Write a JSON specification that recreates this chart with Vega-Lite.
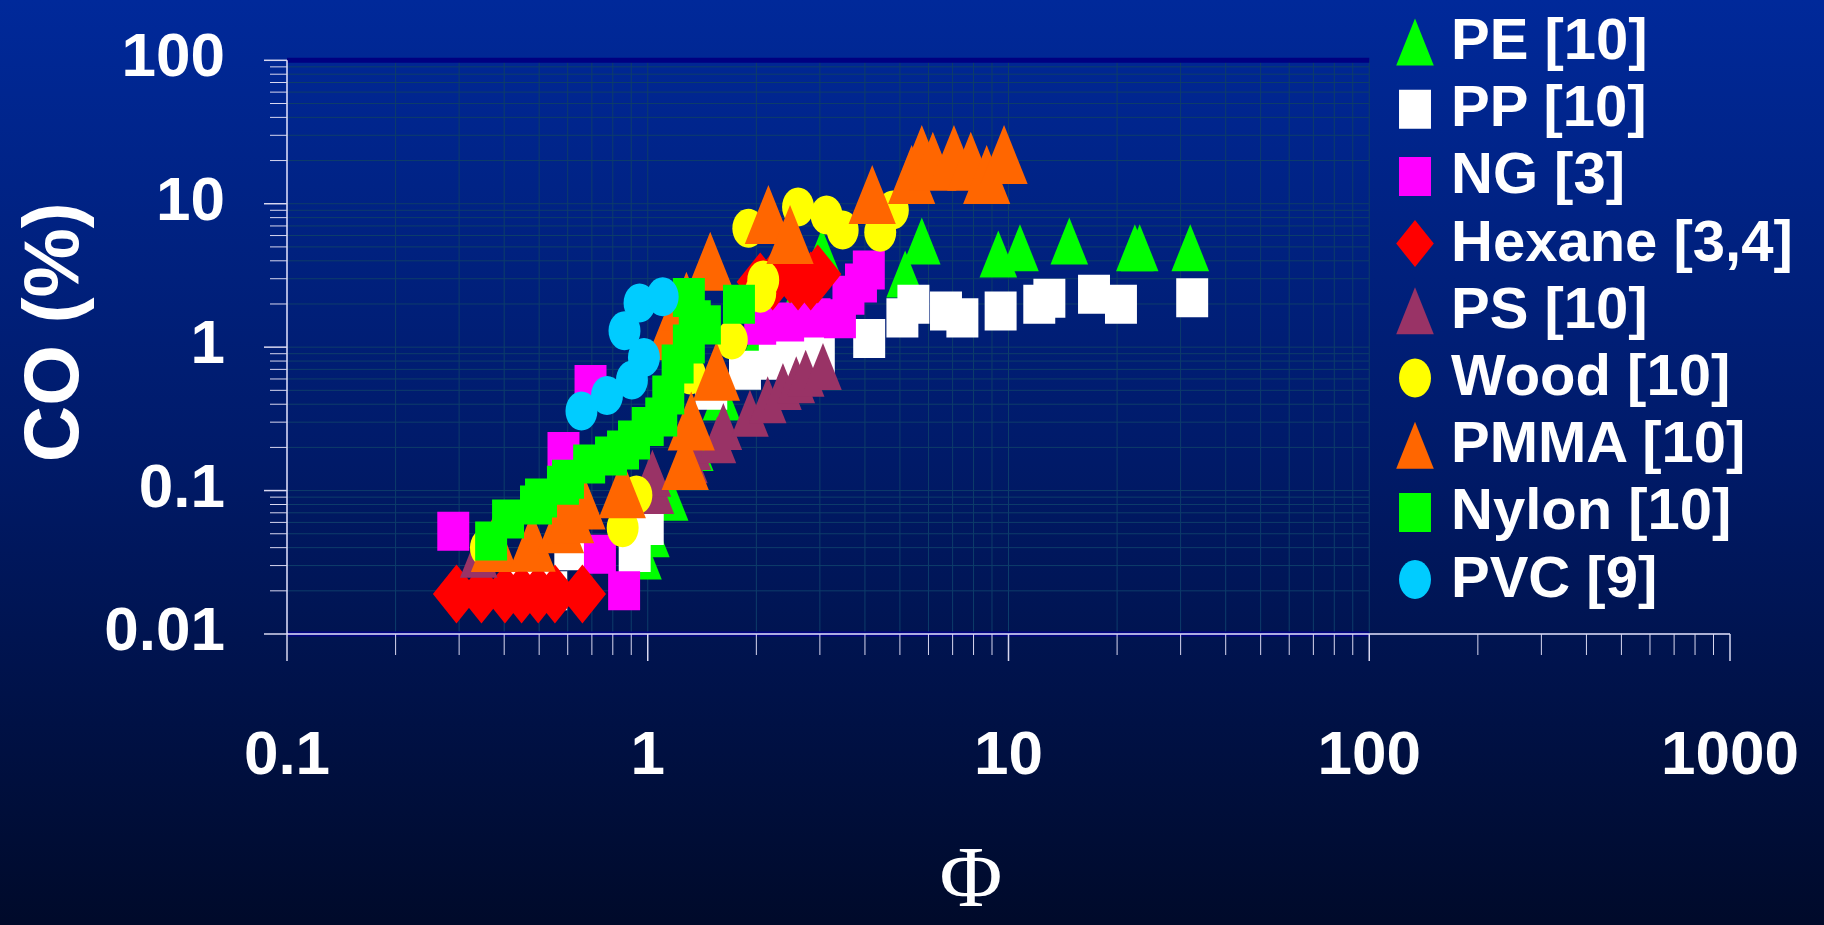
{
  "$schema": "https://vega.github.io/schema/vega-lite/v6.json",
  "width": 1443,
  "height": 573.7,
  "autosize": {"type": "none"},
  "padding": {"left": 287, "top": 60.3, "right": 94, "bottom": 291},
  "background": "#001a66",
  "config": {"view": {"stroke": null}},
  "datasets": {
    "vgrid": [{"v":0.2},{"v":0.3},{"v":0.4},{"v":0.5},{"v":0.6},{"v":0.7},{"v":0.8},{"v":0.9},{"v":1},{"v":2},{"v":3},{"v":4},{"v":5},{"v":6},{"v":7},{"v":8},{"v":9},{"v":10},{"v":20},{"v":30},{"v":40},{"v":50},{"v":60},{"v":70},{"v":80},{"v":90},{"v":100}],
    "hgrid": [{"v":0.02},{"v":0.03},{"v":0.04},{"v":0.05},{"v":0.06},{"v":0.07},{"v":0.08},{"v":0.09},{"v":0.1},{"v":0.2},{"v":0.3},{"v":0.4},{"v":0.5},{"v":0.6},{"v":0.7},{"v":0.8},{"v":0.9},{"v":1},{"v":2},{"v":3},{"v":4},{"v":5},{"v":6},{"v":7},{"v":8},{"v":9},{"v":10},{"v":20},{"v":30},{"v":40},{"v":50},{"v":60},{"v":70},{"v":80},{"v":90}],
    "xminor": [{"v":0.2},{"v":0.3},{"v":0.4},{"v":0.5},{"v":0.6},{"v":0.7},{"v":0.8},{"v":0.9},{"v":2},{"v":3},{"v":4},{"v":5},{"v":6},{"v":7},{"v":8},{"v":9},{"v":20},{"v":30},{"v":40},{"v":50},{"v":60},{"v":70},{"v":80},{"v":90},{"v":200},{"v":300},{"v":400},{"v":500},{"v":600},{"v":700},{"v":800},{"v":900}],
    "xmajor": [{"v":0.1},{"v":1},{"v":10},{"v":100},{"v":1000}],
    "yminor": [{"v":0.02},{"v":0.03},{"v":0.04},{"v":0.05},{"v":0.06},{"v":0.07},{"v":0.08},{"v":0.09},{"v":0.2},{"v":0.3},{"v":0.4},{"v":0.5},{"v":0.6},{"v":0.7},{"v":0.8},{"v":0.9},{"v":2},{"v":3},{"v":4},{"v":5},{"v":6},{"v":7},{"v":8},{"v":9},{"v":20},{"v":30},{"v":40},{"v":50},{"v":60},{"v":70},{"v":80},{"v":90}],
    "ymajor": [{"v":0.01},{"v":0.1},{"v":1},{"v":10},{"v":100}],
    "pts": [
      {"series":"PE [10]","phi":0.97,"co":0.035},
      {"series":"PE [10]","phi":1.02,"co":0.05},
      {"series":"PE [10]","phi":1.15,"co":0.09},
      {"series":"PE [10]","phi":1.35,"co":0.2},
      {"series":"PE [10]","phi":1.6,"co":0.45},
      {"series":"PE [10]","phi":2.0,"co":1.0},
      {"series":"PE [10]","phi":2.6,"co":2.2},
      {"series":"PE [10]","phi":3.04,"co":4.6},
      {"series":"PE [10]","phi":5.17,"co":3.24},
      {"series":"PE [10]","phi":5.75,"co":5.5},
      {"series":"PE [10]","phi":9.37,"co":4.46},
      {"series":"PE [10]","phi":10.76,"co":4.94},
      {"series":"PE [10]","phi":14.74,"co":5.5},
      {"series":"PE [10]","phi":22.4,"co":4.94},
      {"series":"PE [10]","phi":23.1,"co":4.94},
      {"series":"PE [10]","phi":31.9,"co":4.94},
      {"series":"PP [10]","phi":0.45,"co":0.02},
      {"series":"PP [10]","phi":0.54,"co":0.02},
      {"series":"PP [10]","phi":0.61,"co":0.038},
      {"series":"PP [10]","phi":0.92,"co":0.037},
      {"series":"PP [10]","phi":1.0,"co":0.057},
      {"series":"PP [10]","phi":1.5,"co":0.5},
      {"series":"PP [10]","phi":1.86,"co":0.69},
      {"series":"PP [10]","phi":2.25,"co":0.81},
      {"series":"PP [10]","phi":2.73,"co":0.86},
      {"series":"PP [10]","phi":2.98,"co":0.87},
      {"series":"PP [10]","phi":4.11,"co":1.15},
      {"series":"PP [10]","phi":5.08,"co":1.6},
      {"series":"PP [10]","phi":5.45,"co":1.99},
      {"series":"PP [10]","phi":6.71,"co":1.79},
      {"series":"PP [10]","phi":7.45,"co":1.6},
      {"series":"PP [10]","phi":9.51,"co":1.79},
      {"series":"PP [10]","phi":12.17,"co":1.99},
      {"series":"PP [10]","phi":12.98,"co":2.19},
      {"series":"PP [10]","phi":17.26,"co":2.34},
      {"series":"PP [10]","phi":20.5,"co":1.99},
      {"series":"PP [10]","phi":32.3,"co":2.21},
      {"series":"NG [3]","phi":0.289,"co":0.052},
      {"series":"NG [3]","phi":0.584,"co":0.187},
      {"series":"NG [3]","phi":0.694,"co":0.549},
      {"series":"NG [3]","phi":0.737,"co":0.036},
      {"series":"NG [3]","phi":0.86,"co":0.02},
      {"series":"NG [3]","phi":2.05,"co":1.42},
      {"series":"NG [3]","phi":2.45,"co":1.5},
      {"series":"NG [3]","phi":2.9,"co":1.6},
      {"series":"NG [3]","phi":3.41,"co":1.58},
      {"series":"NG [3]","phi":3.6,"co":2.3},
      {"series":"NG [3]","phi":3.9,"co":2.8},
      {"series":"NG [3]","phi":4.1,"co":3.45},
      {"series":"Hexane [3,4]","phi":0.295,"co":0.019},
      {"series":"Hexane [3,4]","phi":0.346,"co":0.019},
      {"series":"Hexane [3,4]","phi":0.402,"co":0.019},
      {"series":"Hexane [3,4]","phi":0.447,"co":0.019},
      {"series":"Hexane [3,4]","phi":0.497,"co":0.019},
      {"series":"Hexane [3,4]","phi":0.553,"co":0.019},
      {"series":"Hexane [3,4]","phi":0.659,"co":0.019},
      {"series":"Hexane [3,4]","phi":2.05,"co":2.85},
      {"series":"Hexane [3,4]","phi":2.22,"co":2.89},
      {"series":"Hexane [3,4]","phi":2.48,"co":3.24},
      {"series":"Hexane [3,4]","phi":2.61,"co":2.89},
      {"series":"Hexane [3,4]","phi":2.83,"co":2.89},
      {"series":"Hexane [3,4]","phi":2.96,"co":3.24},
      {"series":"PS [10]","phi":0.34,"co":0.036},
      {"series":"PS [10]","phi":1.05,"co":0.1},
      {"series":"PS [10]","phi":1.03,"co":0.132},
      {"series":"PS [10]","phi":1.30,"co":0.164},
      {"series":"PS [10]","phi":1.33,"co":0.203},
      {"series":"PS [10]","phi":1.56,"co":0.226},
      {"series":"PS [10]","phi":1.62,"co":0.28},
      {"series":"PS [10]","phi":1.92,"co":0.346},
      {"series":"PS [10]","phi":2.15,"co":0.43},
      {"series":"PS [10]","phi":2.37,"co":0.532},
      {"series":"PS [10]","phi":2.58,"co":0.592},
      {"series":"PS [10]","phi":2.74,"co":0.658},
      {"series":"PS [10]","phi":3.06,"co":0.733},
      {"series":"Wood [10]","phi":0.356,"co":0.04},
      {"series":"Wood [10]","phi":0.852,"co":0.055},
      {"series":"Wood [10]","phi":0.93,"co":0.093},
      {"series":"Wood [10]","phi":1.31,"co":0.64},
      {"series":"Wood [10]","phi":1.71,"co":1.12},
      {"series":"Wood [10]","phi":2.05,"co":2.38},
      {"series":"Wood [10]","phi":2.09,"co":2.94},
      {"series":"Wood [10]","phi":1.90,"co":6.74},
      {"series":"Wood [10]","phi":2.61,"co":9.49},
      {"series":"Wood [10]","phi":3.13,"co":8.35},
      {"series":"Wood [10]","phi":3.47,"co":6.56},
      {"series":"Wood [10]","phi":4.41,"co":6.32},
      {"series":"Wood [10]","phi":4.78,"co":9.04},
      {"series":"PMMA [10]","phi":0.376,"co":0.0434},
      {"series":"PMMA [10]","phi":0.478,"co":0.0436},
      {"series":"PMMA [10]","phi":0.573,"co":0.0587},
      {"series":"PMMA [10]","phi":0.611,"co":0.069},
      {"series":"PMMA [10]","phi":0.657,"co":0.086},
      {"series":"PMMA [10]","phi":0.85,"co":0.103},
      {"series":"PMMA [10]","phi":1.27,"co":0.162},
      {"series":"PMMA [10]","phi":1.32,"co":0.305},
      {"series":"PMMA [10]","phi":1.55,"co":0.68},
      {"series":"PMMA [10]","phi":1.15,"co":1.3},
      {"series":"PMMA [10]","phi":1.28,"co":2.09},
      {"series":"PMMA [10]","phi":1.49,"co":3.97},
      {"series":"PMMA [10]","phi":2.16,"co":8.41},
      {"series":"PMMA [10]","phi":2.48,"co":6.10},
      {"series":"PMMA [10]","phi":4.19,"co":11.6},
      {"series":"PMMA [10]","phi":5.39,"co":16.0},
      {"series":"PMMA [10]","phi":5.75,"co":22.0},
      {"series":"PMMA [10]","phi":6.17,"co":19.8},
      {"series":"PMMA [10]","phi":7.06,"co":22.0},
      {"series":"PMMA [10]","phi":7.86,"co":19.8},
      {"series":"PMMA [10]","phi":8.70,"co":16.0},
      {"series":"PMMA [10]","phi":9.72,"co":22.0},
      {"series":"Nylon [10]","phi":0.368,"co":0.0445},
      {"series":"Nylon [10]","phi":0.41,"co":0.0633},
      {"series":"Nylon [10]","phi":0.49,"co":0.0793},
      {"series":"Nylon [10]","phi":0.506,"co":0.0887},
      {"series":"Nylon [10]","phi":0.582,"co":0.109},
      {"series":"Nylon [10]","phi":0.601,"co":0.12},
      {"series":"Nylon [10]","phi":0.688,"co":0.153},
      {"series":"Nylon [10]","phi":0.791,"co":0.174},
      {"series":"Nylon [10]","phi":0.854,"co":0.192},
      {"series":"Nylon [10]","phi":0.916,"co":0.225},
      {"series":"Nylon [10]","phi":1.0,"co":0.28},
      {"series":"Nylon [10]","phi":1.09,"co":0.326},
      {"series":"Nylon [10]","phi":1.14,"co":0.464},
      {"series":"Nylon [10]","phi":1.21,"co":0.763},
      {"series":"Nylon [10]","phi":1.30,"co":1.05},
      {"series":"Nylon [10]","phi":1.44,"co":1.43},
      {"series":"Nylon [10]","phi":1.35,"co":1.55},
      {"series":"Nylon [10]","phi":1.30,"co":2.22},
      {"series":"Nylon [10]","phi":1.79,"co":1.99},
      {"series":"PVC [9]","phi":0.655,"co":0.359},
      {"series":"PVC [9]","phi":0.771,"co":0.46},
      {"series":"PVC [9]","phi":0.904,"co":0.59},
      {"series":"PVC [9]","phi":0.976,"co":0.847},
      {"series":"PVC [9]","phi":0.862,"co":1.30},
      {"series":"PVC [9]","phi":0.949,"co":2.03},
      {"series":"PVC [9]","phi":1.10,"co":2.25}
    ]
  },
  "layer": [
    {
      "data": {"values": [{}]},
      "mark": {"type": "rect", "fill": {"gradient": "linear", "x1": 0, "y1": 0, "x2": 0, "y2": 1, "stops": [{"offset": 0, "color": "#00299a"}, {"offset": 0.5, "color": "#001a68"}, {"offset": 1, "color": "#000a2a"}]}},
      "encoding": {
        "x": {"datum": 0.016011, "type": "quantitative", "scale": {"type": "log", "domain": [0.1, 1000], "nice": false}, "axis": null},
        "x2": {"datum": 1822.1},
        "y": {"datum": 0.00009355, "type": "quantitative", "scale": {"type": "log", "domain": [0.01, 100], "nice": false}, "axis": null},
        "y2": {"datum": 263.28}
      }
    },
    {
      "data": {"name": "vgrid"},
      "mark": {"type": "rule", "stroke": "#0d3d6a", "strokeWidth": 1},
      "encoding": {
        "x": {"field": "v", "type": "quantitative", "scale": {"type": "log", "domain": [0.1, 1000], "nice": false}, "axis": null},
        "y": {"datum": 0.01, "type": "quantitative", "scale": {"type": "log", "domain": [0.01, 100], "nice": false}, "axis": null},
        "y2": {"datum": 100}
      }
    },
    {
      "data": {"name": "hgrid"},
      "mark": {"type": "rule", "stroke": "#0d3d6a", "strokeWidth": 1},
      "encoding": {
        "y": {"field": "v", "type": "quantitative", "scale": {"type": "log", "domain": [0.01, 100], "nice": false}, "axis": null},
        "x": {"datum": 0.1, "type": "quantitative", "scale": {"type": "log", "domain": [0.1, 1000], "nice": false}, "axis": null},
        "x2": {"datum": 100}
      }
    },
    {
      "data": {"values": [{}]},
      "mark": {"type": "rule", "stroke": "#000080", "strokeWidth": 5},
      "encoding": {
        "x": {"datum": 0.1, "type": "quantitative", "scale": {"type": "log", "domain": [0.1, 1000], "nice": false}, "axis": null},
        "x2": {"datum": 100},
        "y": {"datum": 100, "type": "quantitative", "scale": {"type": "log", "domain": [0.01, 100], "nice": false}, "axis": null}
      }
    },
    {
      "data": {"values": [{}]},
      "mark": {"type": "rule", "stroke": "#000080", "strokeWidth": 5},
      "encoding": {
        "x": {"datum": 0.1, "type": "quantitative", "scale": {"type": "log", "domain": [0.1, 1000], "nice": false}, "axis": null},
        "x2": {"datum": 100},
        "y": {"datum": 0.01, "type": "quantitative", "scale": {"type": "log", "domain": [0.01, 100], "nice": false}, "axis": null}
      }
    },
    {
      "data": {"values": [{}]},
      "mark": {"type": "rule", "stroke": "#e4e4ff", "strokeWidth": 1.5},
      "encoding": {
        "x": {"datum": 0.1, "type": "quantitative", "scale": {"type": "log", "domain": [0.1, 1000], "nice": false}, "axis": null},
        "x2": {"datum": 1000},
        "y": {"datum": 0.01, "type": "quantitative", "scale": {"type": "log", "domain": [0.01, 100], "nice": false}, "axis": null}
      }
    },
    {
      "data": {"values": [{}]},
      "mark": {"type": "rule", "stroke": "#e4e4ff", "strokeWidth": 1.5},
      "encoding": {
        "x": {"datum": 0.1, "type": "quantitative", "scale": {"type": "log", "domain": [0.1, 1000], "nice": false}, "axis": null},
        "y": {"datum": 0.01, "type": "quantitative", "scale": {"type": "log", "domain": [0.01, 100], "nice": false}, "axis": null},
        "y2": {"datum": 100}
      }
    },
    {
      "data": {"name": "xminor"},
      "mark": {"type": "tick", "orient": "vertical", "color": "#d8d8f0", "size": 21, "thickness": 1, "yOffset": 10.5, "opacity": 1},
      "encoding": {
        "x": {"field": "v", "type": "quantitative", "scale": {"type": "log", "domain": [0.1, 1000], "nice": false}, "axis": null},
        "y": {"datum": 0.01, "type": "quantitative", "scale": {"type": "log", "domain": [0.01, 100], "nice": false}, "axis": null}
      }
    },
    {
      "data": {"name": "xmajor"},
      "mark": {"type": "tick", "orient": "vertical", "color": "#d8d8f0", "size": 27, "thickness": 1.5, "yOffset": 13.5, "opacity": 1},
      "encoding": {
        "x": {"field": "v", "type": "quantitative", "scale": {"type": "log", "domain": [0.1, 1000], "nice": false}, "axis": null},
        "y": {"datum": 0.01, "type": "quantitative", "scale": {"type": "log", "domain": [0.01, 100], "nice": false}, "axis": null}
      }
    },
    {
      "data": {"name": "yminor"},
      "mark": {"type": "tick", "orient": "horizontal", "color": "#d8d8f0", "size": 17, "thickness": 1, "xOffset": -8.5, "opacity": 1},
      "encoding": {
        "y": {"field": "v", "type": "quantitative", "scale": {"type": "log", "domain": [0.01, 100], "nice": false}, "axis": null},
        "x": {"datum": 0.1, "type": "quantitative", "scale": {"type": "log", "domain": [0.1, 1000], "nice": false}, "axis": null}
      }
    },
    {
      "data": {"name": "ymajor"},
      "mark": {"type": "tick", "orient": "horizontal", "color": "#d8d8f0", "size": 23, "thickness": 1.5, "xOffset": -11.5, "opacity": 1},
      "encoding": {
        "y": {"field": "v", "type": "quantitative", "scale": {"type": "log", "domain": [0.01, 100], "nice": false}, "axis": null},
        "x": {"datum": 0.1, "type": "quantitative", "scale": {"type": "log", "domain": [0.1, 1000], "nice": false}, "axis": null}
      }
    },
    {
      "data": {"name": "xmajor"},
      "mark": {"type": "text", "color": "white", "font": "Liberation Sans, Arial, sans-serif", "fontWeight": "bold", "fontSize": 62, "align": "center", "baseline": "alphabetic", "dy": 140},
      "encoding": {
        "x": {"field": "v", "type": "quantitative", "scale": {"type": "log", "domain": [0.1, 1000], "nice": false}, "axis": null},
        "y": {"datum": 0.01, "type": "quantitative", "scale": {"type": "log", "domain": [0.01, 100], "nice": false}, "axis": null},
        "text": {"field": "v", "type": "quantitative", "format": "~g"}
      }
    },
    {
      "data": {"name": "ymajor"},
      "mark": {"type": "text", "color": "white", "font": "Liberation Sans, Arial, sans-serif", "fontWeight": "bold", "fontSize": 62, "align": "right", "baseline": "alphabetic", "dx": -62, "dy": 16},
      "encoding": {
        "y": {"field": "v", "type": "quantitative", "scale": {"type": "log", "domain": [0.01, 100], "nice": false}, "axis": null},
        "x": {"datum": 0.1, "type": "quantitative", "scale": {"type": "log", "domain": [0.1, 1000], "nice": false}, "axis": null},
        "text": {"field": "v", "type": "quantitative", "format": "~g"}
      }
    },
    {
      "data": {"values": [{"label": "Φ"}]},
      "mark": {"type": "text", "color": "white", "font": "Liberation Serif, DejaVu Serif, serif", "fontWeight": "normal", "fontSize": 86, "align": "center", "baseline": "alphabetic", "dy": 272},
      "encoding": {
        "x": {"datum": 7.87, "type": "quantitative", "scale": {"type": "log", "domain": [0.1, 1000], "nice": false}, "axis": null},
        "y": {"datum": 0.01, "type": "quantitative", "scale": {"type": "log", "domain": [0.01, 100], "nice": false}, "axis": null},
        "text": {"field": "label"}
      }
    },
    {
      "data": {"values": [{"label": "CO (%)"}]},
      "mark": {"type": "text", "color": "white", "font": "Liberation Sans, Arial, sans-serif", "fontWeight": "bold", "fontSize": 78, "align": "center", "baseline": "alphabetic", "angle": 270, "dx": 15, "dy": -209},
      "encoding": {
        "x": {"datum": 0.1, "type": "quantitative", "scale": {"type": "log", "domain": [0.1, 1000], "nice": false}, "axis": null},
        "y": {"datum": 1, "type": "quantitative", "scale": {"type": "log", "domain": [0.01, 100], "nice": false}, "axis": null},
        "text": {"field": "label"}
      }
    },
    {
      "data": {"name": "pts"},
      "mark": {"type": "point", "filled": true, "opacity": 1, "strokeWidth": 0},
      "encoding": {
        "x": {"field": "phi", "type": "quantitative", "scale": {"type": "log", "domain": [0.1, 1000], "nice": false}, "axis": null},
        "y": {"field": "co", "type": "quantitative", "scale": {"type": "log", "domain": [0.01, 100], "nice": false}, "axis": null},
        "color": {
          "field": "series", "type": "nominal",
          "scale": {
            "domain": ["PE [10]","PP [10]","NG [3]","Hexane [3,4]","PS [10]","Wood [10]","PMMA [10]","Nylon [10]","PVC [9]"],
            "range": ["#00ff00","#ffffff","#ff00ff","#ff0000","#993366","#ffff00","#ff6600","#00ff00","#00ccff"]
          },
          "legend": {
            "orient": "none", "legendX": 1099, "legendY": -47.3, "title": null, "padding": 0, "zindex": 2,
            "labelColor": "white", "labelFont": "Liberation Sans, Arial, sans-serif", "labelFontWeight": "bold",
            "labelFontSize": 58, "labelOffset": 7, "labelLimit": 800,
            "symbolSize": 2209, "symbolStrokeWidth": 0, "rowPadding": 9.2
          }
        },
        "shape": {
          "field": "series", "type": "nominal",
          "scale": {
            "domain": ["PE [10]","PP [10]","NG [3]","Hexane [3,4]","PS [10]","Wood [10]","PMMA [10]","Nylon [10]","PVC [9]"],
            "range": [
              "M0,-1L0.8,1L-0.8,1Z",
              "M-0.68,-0.83L0.68,-0.83L0.68,0.83L-0.68,0.83Z",
              "M-0.68,-0.83L0.68,-0.83L0.68,0.83L-0.68,0.83Z",
              "M0,-1L0.8,0L0,1L-0.8,0Z",
              "M0,-1L0.8,1L-0.8,1Z",
              "M-0.68,0A0.68,0.83,0,1,0,0.68,0A0.68,0.83,0,1,0,-0.68,0Z",
              "M0,-1L0.8,1L-0.8,1Z",
              "M-0.68,-0.83L0.68,-0.83L0.68,0.83L-0.68,0.83Z",
              "M-0.68,0A0.68,0.83,0,1,0,0.68,0A0.68,0.83,0,1,0,-0.68,0Z"
            ]
          },
          "legend": {
            "orient": "none", "legendX": 1099, "legendY": -47.3, "title": null, "padding": 0, "zindex": 2,
            "labelColor": "white", "labelFont": "Liberation Sans, Arial, sans-serif", "labelFontWeight": "bold",
            "labelFontSize": 58, "labelOffset": 7, "labelLimit": 800,
            "symbolSize": 2209, "symbolStrokeWidth": 0, "rowPadding": 9.2
          }
        },
        "size": {
          "condition": {"test": "datum.series === 'Hexane [3,4]' || datum.series === 'PMMA [10]'", "value": 3481},
          "value": 2209
        }
      }
    }
  ]
}
